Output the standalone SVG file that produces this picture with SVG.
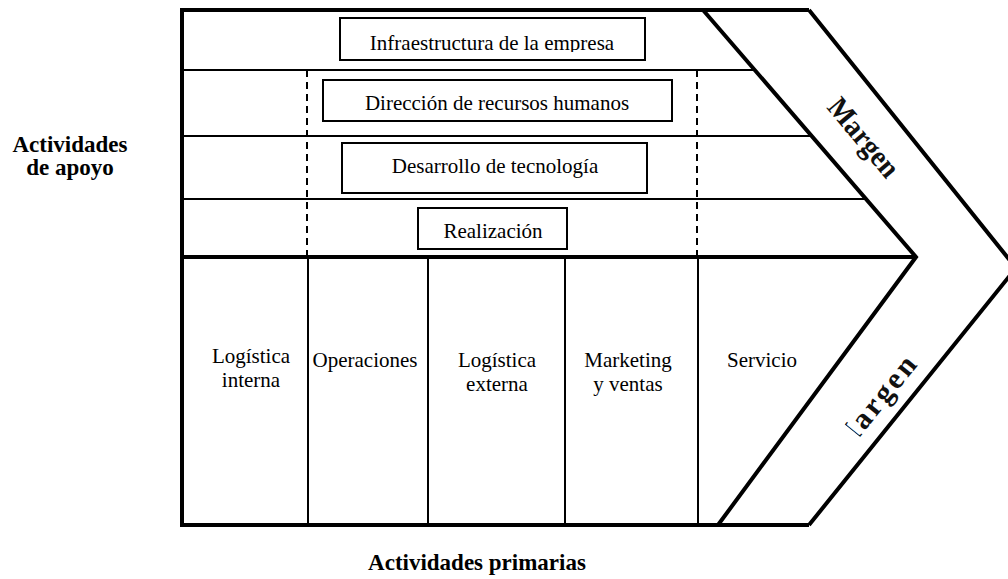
<svg xmlns="http://www.w3.org/2000/svg" width="1008" height="579" viewBox="0 0 1008 579">
<style>
  text { font-family: "Liberation Serif", "Times New Roman", serif; fill: #000; }
  .t { font-size: 21px; text-anchor: middle; }
  .b { font-size: 23px; font-weight: bold; text-anchor: middle; }
  .m { font-weight: bold; text-anchor: middle; fill: #111; }
  .thick { stroke: #000; stroke-width: 4; fill: none; stroke-linejoin: miter; }
  .thin { stroke: #000; stroke-width: 2; fill: none; }
  .dash { stroke: #000; stroke-width: 2; fill: none; stroke-dasharray: 7 5; }
  .box { stroke: #000; stroke-width: 2; fill: #fff; }
</style>
<defs>
  <clipPath id="clipInfra"><rect x="330" y="15" width="320" height="37"/></clipPath>
  <clipPath id="clipMargen2"><rect x="780" y="300" width="228" height="142"/></clipPath>
  <clipPath id="clipMargen2b"><polygon points="776.9,369.5 932.3,495.3 1058.3,340.3 902.9,214.5"/></clipPath>
</defs>
<rect x="0" y="0" width="1008" height="579" fill="#fff"/>

<g id="lines">
  <line class="thin" x1="182" y1="70" x2="755" y2="70"/>
  <line class="thin" x1="182" y1="136" x2="812" y2="136"/>
  <line class="thin" x1="182" y1="199" x2="866" y2="199"/>
  <line class="dash" x1="307" y1="70" x2="307" y2="257"/>
  <line class="dash" x1="697" y1="70" x2="697" y2="257"/>
  <line class="thin" x1="308" y1="257" x2="308" y2="525"/>
  <line class="thin" x1="428" y1="257" x2="428" y2="525"/>
  <line class="thin" x1="565" y1="257" x2="565" y2="525"/>
  <line class="thin" x1="698" y1="257" x2="698" y2="525"/>
  <line class="thick" x1="182" y1="257" x2="916" y2="257"/>
</g>

<g id="frame">
  <polyline class="thick" points="703,10 182,10 182,525 718,525"/>
  <polyline class="thick" points="703,10 809,10"/>
  <polyline class="thick" points="718,525 809,525"/>
  <polyline class="thick" points="703,10 916,257 718,525"/>
  <polyline class="thick" points="809,10 1016,268 809,525"/>
</g>

<g id="infraestructura">
  <rect class="box" x="340" y="18" width="305" height="42"/>
  <text class="t" x="492" y="50" clip-path="url(#clipInfra)">Infraestructura de la empresa</text>
</g>
<g id="recursos-humanos">
  <rect class="box" x="323" y="80" width="349" height="41"/>
  <text class="t" x="497" y="110">Dirección de recursos humanos</text>
</g>
<g id="tecnologia">
  <rect class="box" x="342" y="143" width="305" height="50"/>
  <text class="t" x="495" y="173">Desarrollo de tecnología</text>
</g>
<g id="realizacion">
  <rect class="box" x="418" y="208" width="149" height="41"/>
  <text class="t" x="493" y="238">Realización</text>
</g>

<g id="logistica-interna">
  <text class="t" x="251" y="363">Logística</text>
  <text class="t" x="251" y="387">interna</text>
</g>
<g id="operaciones">
  <text class="t" x="365" y="367">Operaciones</text>
</g>
<g id="logistica-externa">
  <text class="t" x="497" y="367">Logística</text>
  <text class="t" x="497" y="391">externa</text>
</g>
<g id="marketing">
  <text class="t" x="628" y="367">Marketing</text>
  <text class="t" x="628" y="391">y ventas</text>
</g>
<g id="servicio">
  <text class="t" x="762" y="367">Servicio</text>
</g>

<g id="margen-superior">
  <text class="m" font-size="30" transform="translate(863,138) rotate(50)" y="9" textLength="94" lengthAdjust="spacingAndGlyphs">Margen</text>
</g>
<g id="margen-inferior" clip-path="url(#clipMargen2)">
  <g clip-path="url(#clipMargen2b)">
    <text class="m" font-size="30" transform="translate(876,406) rotate(-51)" y="7" textLength="116" lengthAdjust="spacing">Margen</text>
  </g>
</g>

<g id="actividades-apoyo">
  <text class="b" x="70" y="152">Actividades</text>
  <text class="b" x="70" y="175">de apoyo</text>
</g>
<g id="actividades-primarias">
  <text class="b" x="477" y="570">Actividades primarias</text>
</g>
</svg>
